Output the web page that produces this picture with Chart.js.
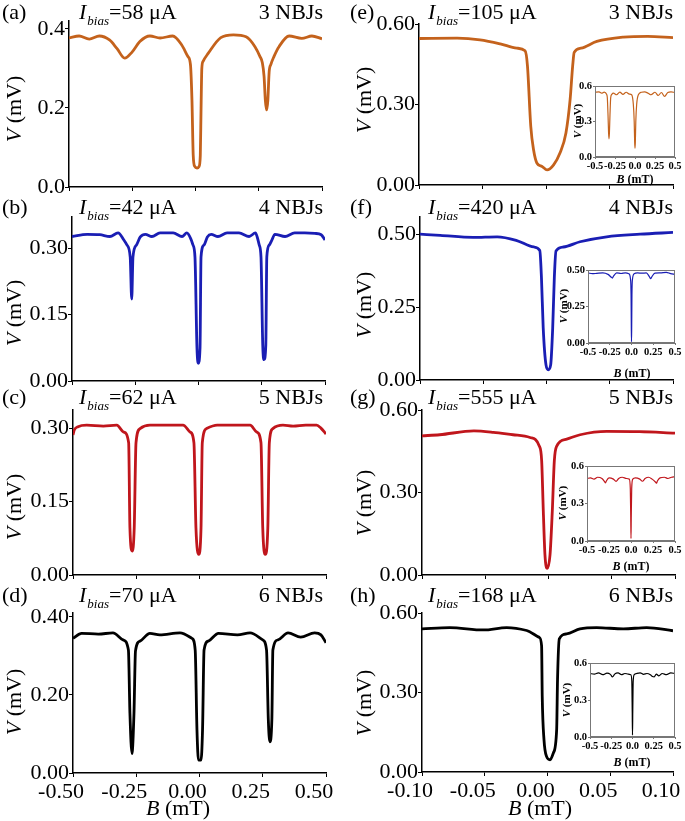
<!DOCTYPE html>
<html><head><meta charset="utf-8">
<script src="https://cdn.jsdelivr.net/npm/chart.js@4.4.1/dist/chart.umd.min.js"></script>
<style>
html,body{margin:0;padding:0;background:#fff;}
body{width:685px;height:821px;position:relative;overflow:hidden;font-family:'Liberation Serif','Times New Roman',serif;color:#000;}
.t{position:absolute;font-size:22px;line-height:22px;white-space:nowrap;z-index:5;}
.t sub{font-size:13px;font-style:italic;vertical-align:-6px;line-height:0;margin-left:1px;}
.yt{transform:translate(-50%,-50%) rotate(-90deg);}
.xt{transform:translateX(-50%);}
.s{font-size:11px;line-height:11px;font-weight:bold;}
</style></head><body>
<script>
// ---------- DATA ----------
const xTicksWide = [-0.5, -0.25, 0, 0.25, 0.5];
const xLabelsWide = ['-0.50', '-0.25', '0.00', '0.25', '0.50'];
const xTicksNarrow = [-0.1, -0.05, 0, 0.05, 0.1];
const xLabelsNarrow = ['-0.10', '-0.05', '0.00', '0.05', '0.10'];
const xLabelsInset = ['-0.5', '-0.25', '0.0', '0.25', '0.5'];

const yTicks_a = [0, 0.2, 0.4];   const yLabels_a = ['0.0', '0.2', '0.4'];
const yTicks_bc = [0, 0.15, 0.30]; const yLabels_bc = ['0.00', '0.15', '0.30'];
const yTicks_d = [0, 0.2, 0.4];   const yLabels_d = ['0.00', '0.20', '0.40'];
const yTicks_egh = [0, 0.3, 0.6]; const yLabels_egh = ['0.00', '0.30', '0.60'];
const yTicks_f = [0, 0.25, 0.5];  const yLabels_f = ['0.00', '0.25', '0.50'];
const yTicksIn = [0, 0.3, 0.6];   const yLabelsIn = ['0.0', '0.3', '0.6'];
const yTicksIn_f = [0, 0.25, 0.5]; const yLabelsIn_f = ['0.00', '0.25', '0.50'];

// (a) 3 NBJs, Ibias = 58 uA
const B_a = [-0.5,-0.46,-0.42,-0.38,-0.34,-0.31,-0.28,-0.25,-0.22,-0.18,-0.14,-0.09,-0.055,-0.03,-0.02,-0.014,-0.009,-0.003,0.006,0.014,0.019,0.022,0.025,0.03,0.05,0.1,0.15,0.2,0.235,0.255,0.264,0.271,0.276,0.281,0.286,0.291,0.298,0.31,0.33,0.37,0.42,0.46,0.5];
const V_a = [0.377,0.382,0.374,0.382,0.372,0.350,0.326,0.342,0.368,0.382,0.377,0.382,0.36,0.33,0.31,0.22,0.08,0.052,0.048,0.052,0.08,0.2,0.3,0.318,0.338,0.378,0.385,0.38,0.355,0.33,0.315,0.28,0.22,0.195,0.22,0.29,0.31,0.33,0.355,0.382,0.376,0.382,0.375];
// (b) 4 NBJs, 42 uA
const B_b = [-0.5,-0.44,-0.39,-0.35,-0.318,-0.295,-0.283,-0.27,-0.264,-0.259,-0.245,-0.23,-0.21,-0.184,-0.152,-0.1,-0.065,-0.046,-0.03,-0.022,-0.014,-0.006,-0.001,0.006,0.01,0.022,0.035,0.05,0.077,0.113,0.16,0.2,0.225,0.232,0.24,0.247,0.254,0.259,0.266,0.27,0.28,0.29,0.302,0.342,0.38,0.42,0.46,0.485,0.5];
const V_b = [0.326,0.331,0.33,0.326,0.334,0.318,0.307,0.28,0.185,0.28,0.307,0.325,0.331,0.326,0.334,0.334,0.326,0.334,0.32,0.307,0.28,0.074,0.04,0.074,0.28,0.307,0.325,0.331,0.326,0.334,0.334,0.326,0.334,0.325,0.307,0.28,0.08,0.048,0.08,0.28,0.307,0.318,0.331,0.326,0.334,0.334,0.333,0.33,0.318];
// (c) 5 NBJs, 62 uA
const B_c = [-0.5,-0.495,-0.48,-0.446,-0.38,-0.327,-0.3,-0.28,-0.275,-0.266,-0.258,-0.251,-0.235,-0.196,-0.13,-0.065,-0.037,-0.022,-0.014,-0.003,0.006,0.011,0.028,0.07,0.13,0.2,0.226,0.243,0.25,0.26,0.27,0.276,0.29,0.33,0.37,0.42,0.463,0.48,0.5];
const V_c = [0.286,0.296,0.303,0.306,0.304,0.306,0.292,0.27,0.096,0.049,0.096,0.27,0.299,0.306,0.306,0.306,0.292,0.27,0.096,0.042,0.096,0.27,0.299,0.306,0.306,0.306,0.292,0.27,0.096,0.042,0.096,0.27,0.299,0.306,0.304,0.306,0.306,0.3,0.288];
// (d) 6 NBJs, 70 uA
const B_d = [-0.5,-0.466,-0.4,-0.342,-0.302,-0.281,-0.275,-0.267,-0.259,-0.253,-0.235,-0.196,-0.157,-0.077,-0.03,-0.017,-0.01,-0.004,0.006,0.012,0.018,0.035,0.075,0.15,0.2,0.25,0.265,0.272,0.278,0.286,0.29,0.31,0.35,0.4,0.455,0.48,0.5];
const V_d = [0.345,0.358,0.356,0.359,0.341,0.315,0.153,0.05,0.153,0.313,0.338,0.358,0.354,0.359,0.345,0.315,0.11,0.033,0.033,0.11,0.315,0.338,0.358,0.354,0.359,0.341,0.315,0.137,0.08,0.137,0.315,0.341,0.359,0.348,0.359,0.354,0.334];
// (e) 3 NBJs, 105 uA
const B_e = [-0.1,-0.07,-0.052,-0.036,-0.023,-0.0165,-0.0146,-0.012,-0.0098,-0.0071,-0.0031,0.0008,0.006,0.011,0.0157,0.019,0.021,0.0222,0.0276,0.04,0.061,0.08,0.1];
const V_e = [0.546,0.547,0.541,0.526,0.51,0.5,0.444,0.219,0.131,0.081,0.069,0.056,0.075,0.119,0.194,0.319,0.444,0.494,0.51,0.535,0.551,0.554,0.549];
// (f) 4 NBJs, 420 uA
const B_f = [-0.1,-0.084,-0.058,-0.039,-0.024,-0.01,-0.0053,-0.004,-0.0026,-0.0004,0.0014,0.0033,0.0049,0.0062,0.0075,0.0133,0.0265,0.0476,0.074,0.1];
const V_f = [0.501,0.497,0.49,0.492,0.48,0.457,0.445,0.353,0.179,0.052,0.035,0.052,0.179,0.353,0.443,0.457,0.475,0.492,0.501,0.507];
// (g) 5 NBJs, 555 uA
const B_g = [-0.1,-0.086,-0.059,-0.0436,-0.028,-0.0146,-0.0073,-0.0054,-0.0041,-0.0028,-0.001,0.0012,0.003,0.0046,0.0065,0.0144,0.025,0.046,0.072,0.1];
const V_g = [0.506,0.51,0.524,0.519,0.51,0.5,0.469,0.415,0.232,0.073,0.024,0.073,0.232,0.415,0.469,0.494,0.51,0.522,0.521,0.516];
// (h) 6 NBJs, 168 uA
const B_h = [-0.1,-0.078,-0.051,-0.0325,-0.0166,-0.0065,-0.0047,-0.0042,-0.0028,-0.0007,0.002,0.0046,0.0073,0.008,0.0094,0.0152,0.0259,0.0392,0.0604,0.079,0.1];
const V_h = [0.54,0.545,0.536,0.545,0.534,0.508,0.476,0.286,0.122,0.058,0.046,0.071,0.16,0.35,0.502,0.521,0.54,0.545,0.54,0.545,0.533];
// insets (wide field range)
const B_ei = [-0.5,-0.45,-0.417,-0.385,-0.355,-0.346,-0.337,-0.33,-0.325,-0.32,-0.313,-0.304,-0.29,-0.27,-0.23,-0.19,-0.15,-0.11,-0.07,-0.042,-0.021,-0.01,-0.004,0,0.004,0.01,0.021,0.042,0.08,0.12,0.165,0.2,0.25,0.29,0.33,0.37,0.41,0.45,0.5];
const V_ei = [0.547,0.55,0.539,0.548,0.53,0.5,0.35,0.2,0.154,0.2,0.35,0.5,0.53,0.539,0.526,0.548,0.53,0.547,0.532,0.526,0.446,0.3,0.12,0.074,0.12,0.3,0.446,0.526,0.547,0.55,0.539,0.526,0.547,0.52,0.545,0.512,0.545,0.55,0.545];
const B_fi = [-0.5,-0.45,-0.4,-0.33,-0.27,-0.235,-0.22,-0.205,-0.17,-0.12,-0.07,-0.03,-0.012,-0.005,-0.002,0,0.002,0.005,0.012,0.03,0.07,0.12,0.17,0.205,0.22,0.235,0.27,0.33,0.4,0.45,0.5];
const V_fi = [0.48,0.475,0.477,0.48,0.47,0.452,0.445,0.46,0.48,0.476,0.48,0.474,0.44,0.33,0.1,0.01,0.1,0.33,0.44,0.474,0.48,0.478,0.48,0.455,0.44,0.455,0.478,0.48,0.484,0.475,0.47];
const B_gi = [-0.5,-0.46,-0.42,-0.38,-0.33,-0.3,-0.29,-0.28,-0.25,-0.2,-0.17,-0.14,-0.1,-0.05,-0.02,-0.008,-0.003,0,0.003,0.008,0.02,0.05,0.1,0.13,0.16,0.2,0.24,0.28,0.29,0.3,0.33,0.38,0.42,0.46,0.5];
const V_gi = [0.5,0.505,0.495,0.51,0.5,0.475,0.464,0.48,0.505,0.495,0.477,0.5,0.51,0.5,0.495,0.42,0.2,0.02,0.2,0.42,0.495,0.505,0.495,0.478,0.5,0.51,0.495,0.47,0.462,0.48,0.505,0.51,0.5,0.51,0.515];
const B_hi = [-0.5,-0.45,-0.4,-0.35,-0.3,-0.26,-0.235,-0.21,-0.17,-0.13,-0.09,-0.05,-0.02,-0.008,-0.003,0,0.003,0.008,0.02,0.05,0.09,0.13,0.17,0.21,0.235,0.255,0.28,0.31,0.35,0.4,0.45,0.5];
const V_hi = [0.515,0.51,0.52,0.505,0.518,0.508,0.487,0.51,0.52,0.505,0.515,0.51,0.505,0.45,0.2,0.015,0.2,0.45,0.505,0.515,0.52,0.508,0.515,0.505,0.49,0.487,0.51,0.495,0.515,0.505,0.52,0.515];

// ---------- DRAWING ----------
const FONT = "'Liberation Serif','Times New Roman',serif";
const ORANGE = '#c4621c', BLUE = '#1a1eb4', RED = '#c0161c', BLACK = '#000';
Chart.defaults.color = '#000';

const boxPlugin = {
  id: 'box',
  beforeDatasetsDraw(chart) {
    const a = chart.chartArea, ctx = chart.ctx;
    ctx.save(); ctx.fillStyle = '#fff'; ctx.fillRect(a.left, a.top, a.right - a.left, a.bottom - a.top); ctx.restore();
  },
  afterDatasetsDraw(chart) {
    const a = chart.chartArea, ctx = chart.ctx;
    ctx.save(); ctx.strokeStyle = '#777'; ctx.lineWidth = 1;
    ctx.strokeRect(a.left + 0.5, a.top + 0.5, a.right - a.left - 1, a.bottom - a.top - 1); ctx.restore();
  }
};

function panel(c) {
  const cv = document.createElement('canvas');
  cv.width = c.cw; cv.height = c.ch;
  cv.style.cssText = `position:absolute;left:${c.cx}px;top:${c.cy}px;width:${c.cw}px;height:${c.ch}px;z-index:${c.inset ? 3 : 1};`;
  document.body.appendChild(cv);
  const A = c.area;
  const yW = A.l - c.cx, xH = c.cy + c.ch - A.b;
  const tickFont = c.inset ? { family: FONT, size: 10.5, weight: 'bold' } : { family: FONT, size: 22 };
  const axisCol = c.inset ? '#777' : '#000';
  new Chart(cv.getContext('2d'), {
    type: 'line',
    data: { datasets: [{ data: c.B.map((b, i) => ({ x: b, y: c.V[i] })), borderColor: c.color, borderWidth: c.lw,
      pointRadius: 0, cubicInterpolationMode: 'monotone', fill: false }] },
    options: {
      responsive: false, animation: false, events: [],
      layout: { padding: { left: 0, top: A.t - c.cy, right: c.cx + c.cw - A.r, bottom: 0 } },
      plugins: { legend: { display: false }, tooltip: { enabled: false } },
      scales: {
        x: {
          type: 'linear', min: c.xmin, max: c.xmax,
          afterFit: s => { s.height = xH; s.paddingLeft = 0; s.paddingRight = 0; s.paddingTop = 0; s.paddingBottom = 0; },
          afterBuildTicks: s => { s.ticks = c.xticks.map(v => ({ value: v })); },
          ticks: { display: c.showX, autoSkip: false, maxRotation: 0, minRotation: 0, font: tickFont, color: '#000',
            padding: c.inset ? 1 : 2, labelOffset: c.xoff || 0, callback: (v, i) => c.xlabels[i] },
          grid: { drawOnChartArea: false, drawTicks: true, tickLength: c.inset ? 2 : 4, color: axisCol, lineWidth: 1 },
          border: { display: true, color: axisCol, width: c.inset ? 1 : 1.5 }
        },
        y: {
          type: 'linear', min: 0, max: c.ymax,
          afterFit: s => { s.width = yW; s.paddingTop = 0; s.paddingBottom = 0; s.paddingLeft = 0; s.paddingRight = 0; },
          afterBuildTicks: s => { s.ticks = c.yticks.map(v => ({ value: v })); },
          ticks: { autoSkip: false, font: tickFont, color: '#000', padding: c.inset ? 1 : 0,
            callback: (v, i) => c.ylabels[i] },
          grid: { drawOnChartArea: false, drawTicks: true, tickLength: c.inset ? 2 : 4, color: axisCol, lineWidth: 1 },
          border: { display: true, color: axisCol, width: c.inset ? 1 : 1.5 }
        }
      }
    },
    plugins: c.inset ? [boxPlugin] : []
  });
}

const W = { xmin: -0.5, xmax: 0.5, xticks: xTicksWide, xlabels: xLabelsWide };
const N = { xmin: -0.1, xmax: 0.1, xticks: xTicksNarrow, xlabels: xLabelsNarrow };
const I = { xmin: -0.5, xmax: 0.5, xticks: xTicksWide, xlabels: xLabelsInset, inset: true, showX: true, lw: 1.2 };

panel({ ...W, B: B_a, V: V_a, color: ORANGE, lw: 2.8, ymax: 0.42, yticks: yTicks_a, ylabels: yLabels_a, showX: false,
  area: { l: 69, t: 21, r: 322, b: 187 }, cx: 0, cy: 7, cw: 342, ch: 190 });
panel({ ...W, B: B_b, V: V_b, color: BLUE, lw: 2.8, ymax: 0.37, yticks: yTicks_bc, ylabels: yLabels_bc, showX: false,
  area: { l: 72, t: 217, r: 325, b: 381 }, cx: 0, cy: 203, cw: 342, ch: 186 });
panel({ ...W, B: B_c, V: V_c, color: RED, lw: 2.8, ymax: 0.337, yticks: yTicks_bc, ylabels: yLabels_bc, showX: false,
  area: { l: 73, t: 410, r: 326, b: 575 }, cx: 0, cy: 396, cw: 342, ch: 187 });
panel({ ...W, B: B_d, V: V_d, color: BLACK, lw: 2.8, ymax: 0.41, yticks: yTicks_d, ylabels: yLabels_d, showX: true, xoff: -12,
  area: { l: 73, t: 613, r: 326, b: 773 }, cx: 0, cy: 599, cw: 342, ch: 222 });
panel({ ...N, B: B_e, V: V_e, color: ORANGE, lw: 2.8, ymax: 0.6, yticks: yTicks_egh, ylabels: yLabels_egh, showX: false,
  area: { l: 419, t: 24, r: 673, b: 185 }, cx: 342, cy: 10, cw: 343, ch: 183 });
panel({ ...N, B: B_f, V: V_f, color: BLUE, lw: 2.8, ymax: 0.56, yticks: yTicks_f, ylabels: yLabels_f, showX: false,
  area: { l: 420, t: 217, r: 673, b: 380 }, cx: 342, cy: 203, cw: 343, ch: 185 });
panel({ ...N, B: B_g, V: V_g, color: RED, lw: 2.8, ymax: 0.6, yticks: yTicks_egh, ylabels: yLabels_egh, showX: false,
  area: { l: 422, t: 410, r: 675, b: 575 }, cx: 342, cy: 396, cw: 343, ch: 187 });
panel({ ...N, B: B_h, V: V_h, color: BLACK, lw: 2.8, ymax: 0.6, yticks: yTicks_egh, ylabels: yLabels_egh, showX: true, xoff: -12,
  area: { l: 422, t: 613, r: 673, b: 772 }, cx: 342, cy: 599, cw: 343, ch: 222 });

panel({ ...I, B: B_ei, V: V_ei, color: ORANGE, ymax: 0.6, yticks: yTicksIn, ylabels: yLabelsIn,
  area: { l: 595, t: 86, r: 675, b: 157 }, cx: 560, cy: 78, cw: 125, ch: 100 });
panel({ ...I, B: B_fi, V: V_fi, color: BLUE, ymax: 0.5, yticks: yTicksIn_f, ylabels: yLabelsIn_f,
  area: { l: 588, t: 270, r: 675, b: 343 }, cx: 555, cy: 262, cw: 130, ch: 100 });
panel({ ...I, B: B_gi, V: V_gi, color: RED, ymax: 0.6, yticks: yTicksIn, ylabels: yLabelsIn,
  area: { l: 587, t: 466, r: 675, b: 541 }, cx: 555, cy: 458, cw: 130, ch: 100 });
panel({ ...I, B: B_hi, V: V_hi, color: BLACK, ymax: 0.6, yticks: yTicksIn, ylabels: yLabelsIn,
  area: { l: 590, t: 663, r: 675, b: 737 }, cx: 555, cy: 655, cw: 130, ch: 100 });

// ---------- TEXT ----------
function txt(html, style, cls) {
  const d = document.createElement('div');
  d.className = 't ' + (cls || '');
  d.style.cssText = style;
  d.innerHTML = html;
  document.body.appendChild(d);
}
const rows = [1, 196, 386, 584];
const panelsL = [['(a)', '58', '3'], ['(b)', '42', '4'], ['(c)', '62', '5'], ['(d)', '70', '6']];
const panelsR = [['(e)', '105', '3'], ['(f)', '420', '4'], ['(g)', '555', '5'], ['(h)', '168', '6']];
const yTitleL = [109, 313, 507, 702], yTitleR = [100, 305, 503, 703];
rows.forEach((top, i) => {
  const L = panelsL[i], R = panelsR[i];
  txt(L[0], `left:2px;top:${top}px;`);
  txt(`<i>I</i><sub>bias</sub>=${L[1]} μA`, `left:79px;top:${top}px;`);
  txt(`${L[2]} NBJs`, `right:${685 - 323}px;top:${top}px;`);
  txt(R[0], `left:350px;top:${top}px;`);
  txt(`<i>I</i><sub>bias</sub>=${R[1]} μA`, `left:428px;top:${top}px;`);
  txt(`${R[2]} NBJs`, `right:${685 - 673}px;top:${top}px;`);
  txt(`<i>V</i> (mV)`, `left:14px;top:${yTitleL[i]}px;`, 'yt');
  txt(`<i>V</i> (mV)`, `left:364px;top:${yTitleR[i]}px;`, 'yt');
});
txt(`<i>B</i> (mT)`, `left:178px;top:797px;`, 'xt');
txt(`<i>B</i> (mT)`, `left:540px;top:797px;`, 'xt');
// inset titles
[[577, 121, 635, 173], [563, 306, 632, 367], [562, 503, 631, 560], [566, 700, 632, 756]].forEach(p => {
  txt(`<i>V</i> (mV)`, `left:${p[0]}px;top:${p[1]}px;`, 's yt');
  txt(`<i>B</i> (mT)`, `left:${p[2]}px;top:${p[3]}px;font-size:12px;line-height:12px;`, 's xt');
});
</script>
</body></html>
